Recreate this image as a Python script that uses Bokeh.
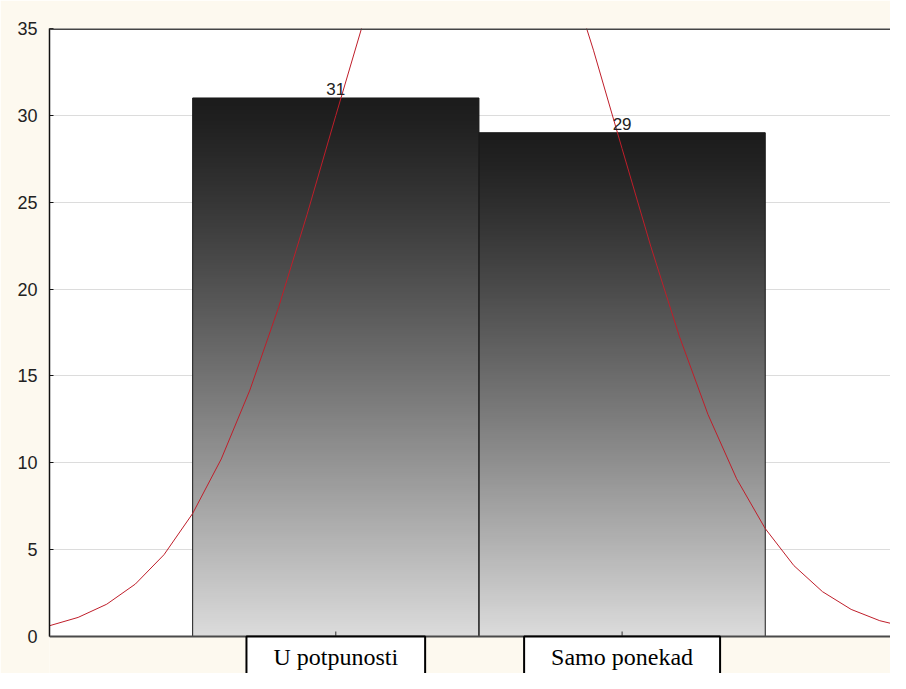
import numpy as np
from bokeh.plotting import figure
from bokeh.models import Range1d, FixedTicker, Label, Span, BoxAnnotation
from bokeh.core.properties import value
from bokeh.embed import file_html
from bokeh.resources import INLINE

# ---- data ----
categories = ["U potpunosti", "Samo ponekad"]
counts = [31, 29]
positions = [1, 2]
y_ticks = [0, 5, 10, 15, 20, 25, 30, 35]

# fitted normal curve (expected counts)
curve_left_x = [0.0, 0.1, 0.2, 0.3, 0.4, 0.5, 0.6, 0.7, 0.8, 0.9, 1.0, 1.1, 1.2]
curve_left_y = [0.62, 1.10, 1.86, 3.02, 4.71, 7.08, 10.22, 14.19, 18.94, 24.31, 29.99, 35.57, 40.56]
curve_right_x = [1.8, 1.9, 2.0, 2.1, 2.2, 2.3, 2.4, 2.5, 2.6, 2.7, 2.8, 2.9, 3.0]
curve_right_y = [38.99, 33.75, 28.08, 22.47, 17.28, 12.78, 9.08, 6.21, 4.08, 2.58, 1.56, 0.91, 0.51]

# ---- layout ----
W, H = 890, 673
LEFT, TOP, ZERO_PX = 49, 28, 636
Y_MAX = 35
px_per_unit = (ZERO_PX - TOP) / Y_MAX
y_start = -(H - ZERO_PX) / px_per_unit
x_end = (W - LEFT) / 286.3

BG = "#fdf9ef"

p = figure(width=W, height=H, output_backend="svg", toolbar_location=None,
           x_axis_location=None,
           x_range=Range1d(0, x_end), y_range=Range1d(y_start, Y_MAX),
           min_border_left=LEFT, min_border_top=TOP, min_border_bottom=0,
           min_border_right=0, border_fill_color=BG,
           background_fill_color=BG)
p.outline_line_color = None

# white plot area above zero
p.add_layout(BoxAnnotation(bottom=0, fill_color="white", fill_alpha=1,
                           line_color=None, level="image"))

# grid
p.xgrid.visible = False
p.ygrid.ticker = FixedTicker(ticks=y_ticks[1:])
p.ygrid.grid_line_color = "#dcdcdc"
p.ygrid.grid_line_width = 1

# y axis
ya = p.yaxis[0]
ya.ticker = FixedTicker(ticks=y_ticks)
ya.bounds = (0, Y_MAX)
ya.major_tick_in = 4
ya.major_tick_out = 0
ya.minor_tick_line_color = None
ya.axis_line_color = "#111111"
ya.axis_line_width = 1.5
ya.major_tick_line_color = "#111111"
ya.major_label_text_font = "Liberation Sans"
ya.major_label_text_font_size = "18px"
ya.major_label_text_color = "#222222"
ya.major_label_standoff = 12

# gradient bars (dark at top, light at bottom)
N = 256
t_from_top = 1.0 - np.arange(N) / (N - 1)   # row 0 is the bottom
g = (28 + 192 * t_from_top ** 1.2).astype(np.uint8)
for xpos, c in zip(positions, counts):
    img = np.empty((N, 1), dtype=np.uint32)
    view = img.view(dtype=np.uint8).reshape((N, 1, 4))
    view[:, 0, 0] = g
    view[:, 0, 1] = g
    view[:, 0, 2] = g
    view[:, 0, 3] = 255
    p.image_rgba(image=[img], x=xpos - 0.5, y=0, dw=1.0, dh=c, level="glyph")

lefts = [x - 0.5 for x in positions]
rights = [x + 0.5 for x in positions]
p.quad(left=lefts, right=rights, bottom=0, top=counts, fill_alpha=0,
       line_color="#1a1a1a", line_width=1)

# normal curve
p.line(curve_left_x, curve_left_y, line_color="#bf1e2a", line_width=1)
p.line(curve_right_x, curve_right_y, line_color="#bf1e2a", line_width=1)

# bar value labels
p.text(x=positions, y=counts, text=[str(c) for c in counts],
       text_align="center", text_baseline="bottom", y_offset=-3,
       text_font=value("Liberation Sans"), text_font_size="17px",
       text_color="#222222")

# frame lines: top and bottom (x axis line), inward ticks at categories
p.add_layout(Span(location=Y_MAX, dimension="width", line_color="#454545",
                  line_width=3))
p.add_layout(Span(location=0, dimension="width", line_color="#4a4a4a",
                  line_width=2))
p.scatter(x=positions, y=[0] * len(positions), marker="dash", size=10,
          angle=np.pi / 2, line_color="#333333", line_width=1)

# category labels in boxes below the axis
for xpos, name in zip(positions, categories):
    lab = Label(x=xpos, y=0, text=name, text_align="center",
                text_baseline="top",
                text_font="Liberation Serif", text_font_size="24px",
                text_color="black", background_fill_color="white",
                border_line_color="black", border_line_width=2,
                padding=dict(left=27, right=27, top=7, bottom=20))
    p.add_layout(lab)

open("out.html", "w").write(file_html(p, INLINE))
